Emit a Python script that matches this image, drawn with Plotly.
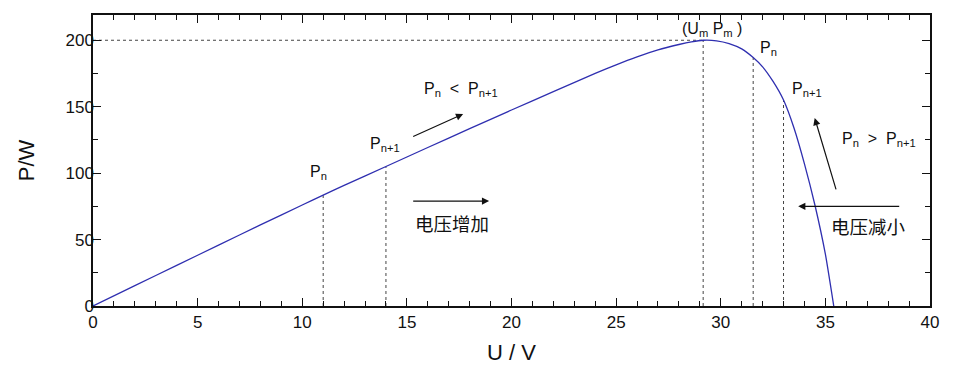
import plotly.graph_objects as go

# ---- data ----
u_curve = [0, 2, 4, 6, 8, 10, 11, 12, 14, 16, 18, 20, 22, 24, 25, 26, 27, 28, 28.6,
           29.16, 29.8, 30.4, 31.0, 31.55, 32.0, 32.5, 33.0, 33.5, 34.0, 34.5, 35.0, 35.4]
p_curve = [0, 15.3, 30.6, 45.8, 61, 76, 83.4, 90.8, 105, 119.3, 133.5, 147.5, 161.3, 175,
           181.5, 187.5, 192.8, 196.8, 198.8, 200, 199.6, 197.5, 193.5, 187, 180, 169,
           155, 134, 107, 76, 39, 0]

guide_u = [11.0, 14.0, 29.16, 31.55, 33.0]
guide_p = [83.4, 105, 200, 187, 155]
pm_u, pm_p = 29.16, 200

x_major = [0, 5, 10, 15, 20, 25, 30, 35, 40]
y_major = [0, 50, 100, 150, 200]

FONT = "Liberation Sans, Arial, Noto Sans CJK SC, sans-serif"

fig = go.Figure()

# vertical guide lines
vx, vy = [], []
for u, p in zip(guide_u, guide_p):
    vx += [u, u, None]
    vy += [0, p, None]
fig.add_trace(go.Scatter(x=vx, y=vy, mode="lines",
                         line=dict(color="#444444", width=1, dash="3px,3px"),
                         hoverinfo="skip", showlegend=False))
# horizontal guide to Pm
fig.add_trace(go.Scatter(x=[0, pm_u], y=[pm_p, pm_p], mode="lines",
                         line=dict(color="#444444", width=1, dash="3px,3px"),
                         hoverinfo="skip", showlegend=False))
# P-U curve
fig.add_trace(go.Scatter(x=u_curve, y=p_curve, mode="lines",
                         line=dict(color="#2f2fb0", width=1.3, shape="spline", smoothing=0.5),
                         showlegend=False))

texts = [
    ("(U<sub>m</sub> P<sub>m</sub> )", 28.05, 207.8),
    ("P<sub>n</sub>", 31.77, 193.6),
    ("P<sub>n+1</sub>", 33.33, 162.7),
    ("P<sub>n</sub>  &gt;  P<sub>n+1</sub>", 35.69, 125.6),
    ("P<sub>n</sub>  &lt;  P<sub>n+1</sub>", 15.70, 162.7),
    ("P<sub>n+1</sub>", 13.15, 121.6),
    ("P<sub>n</sub>", 10.29, 100.4),
]
anns = []
for t, x, y in texts:
    anns.append(dict(text=t, x=x, y=y, xref="x", yref="y", xanchor="left",
                     yanchor="middle", showarrow=False,
                     font=dict(size=16, color="#111111", family=FONT)))
for t, x, y in [("电压增加", 15.30, 61.1), ("电压减小", 35.18, 59.3)]:
    anns.append(dict(text=t, x=x, y=y, xref="x", yref="y", xanchor="left",
                     yanchor="middle", showarrow=False,
                     font=dict(size=18.5, color="#111111", family=FONT)))

arrows = [
    ((15.23, 79.0), (18.93, 79.0)),
    ((15.23, 127.1), (17.69, 144.5)),
    ((35.53, 86.7), (34.49, 141.5)),
    ((38.60, 75.0), (33.70, 75.0)),
]
for (x0, y0), (x1, y1) in arrows:
    anns.append(dict(x=x1, y=y1, ax=x0, ay=y0, xref="x", yref="y", axref="x", ayref="y",
                     text="", showarrow=True, arrowhead=2, arrowsize=1.2,
                     arrowwidth=1.2, arrowcolor="#111111"))

axis_common = dict(showgrid=False, zeroline=False, showline=True, linecolor="#111111",
                   linewidth=1.5, mirror="allticks", ticks="inside", ticklen=8,
                   tickwidth=1.2, tickcolor="#111111",
                   tickfont=dict(size=17, color="#111111", family=FONT))

fig.update_xaxes(range=[0, 40], tickvals=x_major, ticktext=[str(v) for v in x_major],
                 minor=dict(dtick=1, ticks="inside", ticklen=5, tickcolor="#111111", tickwidth=1),
                 title=dict(text="U / V", font=dict(size=22, color="#111111", family=FONT), standoff=13),
                 **axis_common)
fig.update_yaxes(range=[0, 219], tickvals=y_major, ticktext=[str(v) for v in y_major],
                 minor=dict(dtick=25, ticks="inside", ticklen=5, tickcolor="#111111", tickwidth=1),
                 ticklabelstandoff=-6,
                 title=dict(text="P/W", font=dict(size=22, color="#111111", family=FONT), standoff=25),
                 **axis_common)

# page body has an 8px margin: shrink the figure so the plot area lands where the reference has it
fig.update_layout(width=947, height=360, margin=dict(l=85, r=25, t=5, b=62),
                  plot_bgcolor="white", paper_bgcolor="white",
                  annotations=anns, font=dict(family=FONT))

fig.write_html("out.html")
